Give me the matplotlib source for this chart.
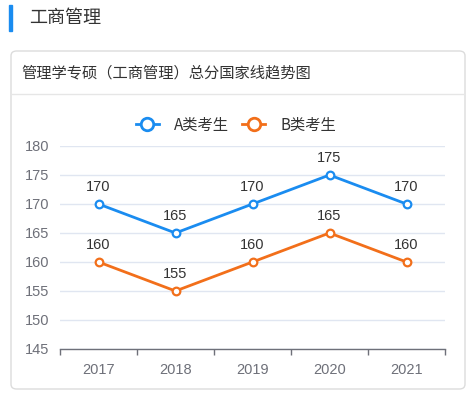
import matplotlib
matplotlib.use("Agg")
import matplotlib.pyplot as plt
from matplotlib.patches import FancyBboxPatch, Rectangle
from matplotlib.lines import Line2D

plt.rcParams['font.family'] = ['Noto Sans CJK SC', 'DejaVu Sans']
num_font = ['Liberation Sans', 'DejaVu Sans']

# data
years = ["2017", "2018", "2019", "2020", "2021"]
score_a = [170, 165, 170, 175, 170]
score_b = [160, 155, 160, 165, 160]
series_names = ["A类考生", "B类考生"]
colors = ["#1a8cf0", "#f26f1a"]

W, H = 473, 397
fig = plt.figure(figsize=(W / 100, H / 100), dpi=100)

def fx(px):
    return px / W

def fy(py):
    return 1 - py / H

# section header
fig.patches.append(Rectangle((fx(9), fy(31)), fx(3), 26 / H, transform=fig.transFigure,
                             color="#1a8cf0", zorder=-1))
fig.text(fx(29), fy(18), "工商管理", fontsize=13, color="#333333", va="center", ha="left")

# card
card = FancyBboxPatch((fx(11), fy(389)), fx(454), (389 - 51) / H,
                      boxstyle="round,pad=0,rounding_size=0.012",
                      transform=fig.transFigure, facecolor="white",
                      edgecolor="#dcdcdc", linewidth=1, zorder=-2)
fig.patches.append(card)
fig.lines.append(Line2D([fx(12), fx(464)], [fy(94), fy(94)], transform=fig.transFigure,
                        color="#e6e6e6", linewidth=1, zorder=-1))
fig.text(fx(21), fy(73), "管理学专硕（工商管理）总分国家线趋势图", fontsize=11,
         color="#333333", va="center", ha="left")

# plot area
ax = fig.add_axes([fx(60), fy(349), fx(445) - fx(60), fy(146) - fy(349)])
x = range(len(years))
for vals, c, name in zip([score_a, score_b], colors, series_names):
    ax.plot(x, vals, color=c, linewidth=2, marker="o", markersize=5.5,
            markerfacecolor="white", markeredgecolor=c, markeredgewidth=1.6,
            zorder=3)
    for xi, v in zip(x, vals):
        ax.annotate(str(v), (xi, v), xytext=(0, 9.5), textcoords="offset points",
                    ha="center", va="baseline", fontsize=10.5, color="#333333",
                    family=num_font)

ax.set_xlim(-0.5, len(years) - 0.5)
ax.set_ylim(145, 180)
ax.set_yticks(range(145, 181, 5))
ax.set_xticks(x)
ax.set_xticklabels(years, family=num_font)
ax.set_yticks(range(145, 181, 5))
ax.set_yticklabels([str(v) for v in range(145, 181, 5)], family=num_font)
ax.set_xticks([i - 0.5 for i in range(len(years) + 1)], minor=True)
ax.tick_params(axis="x", which="major", length=0, pad=10, labelsize=10.5, labelcolor="#6e7079")
ax.tick_params(axis="x", which="minor", length=4.5, width=1, color="#6e7079")
ax.tick_params(axis="y", length=0, pad=8, labelsize=10.5, labelcolor="#6e7079")
ax.grid(axis="y", color="#e0e6f1", linewidth=1)
ax.set_axisbelow(True)
for s in ["top", "right", "left"]:
    ax.spines[s].set_visible(False)
ax.spines["bottom"].set_color("#6e7079")
ax.spines["bottom"].set_linewidth(1)
ax.patch.set_alpha(0)

# legend with bigger hollow markers
handles = [Line2D([], [], color=c, linewidth=2, marker="o", markersize=9,
                  markerfacecolor="white", markeredgecolor=c, markeredgewidth=2)
           for c in colors]
fig.legend(handles, series_names, loc="center", bbox_to_anchor=(fx(236), fy(125)),
           ncol=2, frameon=False, fontsize=11, handlelength=1.5, columnspacing=0.85,
           handletextpad=1.0, labelcolor="#333333")

fig.savefig("out.png", dpi=100)
